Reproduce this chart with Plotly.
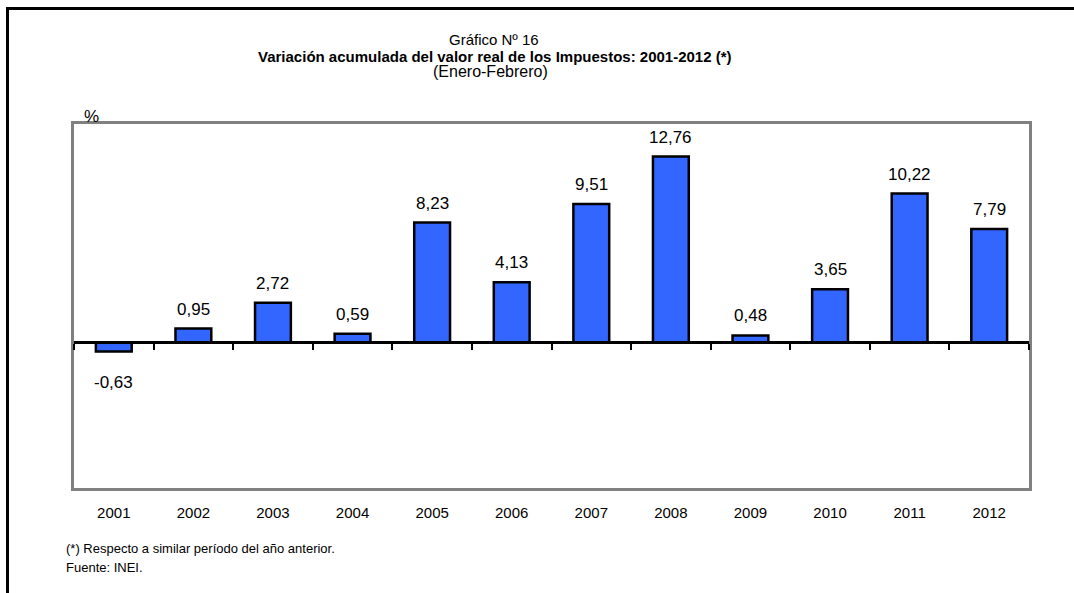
import plotly.graph_objects as go

years = ["2001", "2002", "2003", "2004", "2005", "2006", "2007", "2008", "2009", "2010", "2011", "2012"]
values = [-0.63, 0.95, 2.72, 0.59, 8.23, 4.13, 9.51, 12.76, 0.48, 3.65, 10.22, 7.79]
y_min, y_max = -10, 15

FONT = "Liberation Sans, Arial, sans-serif"

fig = go.Figure()
fig.add_trace(go.Bar(
    x=years, y=values, width=0.45,
    marker=dict(color="#3366FF", line=dict(color="black", width=2.5)),
    hoverinfo="x+y", showlegend=False,
))
# invisible trace to carry the zero-level tick axis
fig.add_trace(go.Scatter(x=list(range(len(years))), y=[0] * len(years), xaxis="x2",
                         mode="markers", marker=dict(opacity=0), hoverinfo="skip", showlegend=False))

for i, v in enumerate(values):
    fig.add_annotation(x=i, y=v, xref="x2", yref="y", text=f"{v:.2f}".replace(".", ","), showarrow=False,
                       xanchor="center", yanchor="bottom" if v >= 0 else "top",
                       yshift=8 if v >= 0 else -19,
                       font=dict(family=FONT, size=17, color="black"))

zero_pos = (0 - y_min) / (y_max - y_min)
n = len(years)

fig.update_layout(
    width=1074, height=593,
    margin=dict(l=74, r=45, t=124, b=105),
    paper_bgcolor="white", plot_bgcolor="white",
    xaxis=dict(type="category", showline=True, mirror=True, linecolor="#808080", linewidth=3,
               ticks="", ticklabelstandoff=9, showgrid=False,
               tickfont=dict(family=FONT, size=15, color="black"), range=[-0.5, n - 0.5]),
    xaxis2=dict(overlaying="x", anchor="free", position=zero_pos, range=[-0.5, n - 0.5],
                tickvals=[i - 0.5 for i in range(n + 1)], showticklabels=False,
                ticks="outside", ticklen=6, tickwidth=2, tickcolor="black",
                showline=True, linecolor="black", linewidth=3, showgrid=False, zeroline=False),
    yaxis=dict(range=[y_min, y_max], showline=True, mirror=True, linecolor="#808080", linewidth=3,
               showticklabels=False, ticks="", showgrid=False, zeroline=False),
)

px_to_paper_x = lambda px: (px - 74) / (1074 - 74 - 45)
px_to_paper_y = lambda py: (593 - 105 - py) / (593 - 124 - 105)


def note(px, py, text, size, xanchor="center"):
    fig.add_annotation(xref="paper", yref="paper", x=px_to_paper_x(px), y=px_to_paper_y(py),
                       xanchor=xanchor, yanchor="middle", text=text, showarrow=False,
                       font=dict(family=FONT, size=size, color="black"))


note(494, 40, "Gráfico Nº 16", 15)
note(495, 56, "<b>Variación acumulada del valor real de los Impuestos: 2001-2012 (*)</b>", 15)
note(490, 71, "(Enero-Febrero)", 16)
note(82, 116, "%", 17, "left")
note(64, 548, "(*) Respecto a similar período del año anterior.", 13, "left")
note(64, 567, "Fuente: INEI.", 13, "left")

# outer frame (left and top edges visible)
fig.add_shape(type="path", xref="paper", yref="paper",
              path=f"M {px_to_paper_x(7.5)},{px_to_paper_y(600)} L {px_to_paper_x(7.5)},{px_to_paper_y(8.5)} L {px_to_paper_x(1080)},{px_to_paper_y(8.5)}",
              line=dict(color="black", width=3))

fig.write_html("out.html", config={"displayModeBar": False},
               post_script="document.body.style.margin='0';document.body.style.overflow='hidden';")
